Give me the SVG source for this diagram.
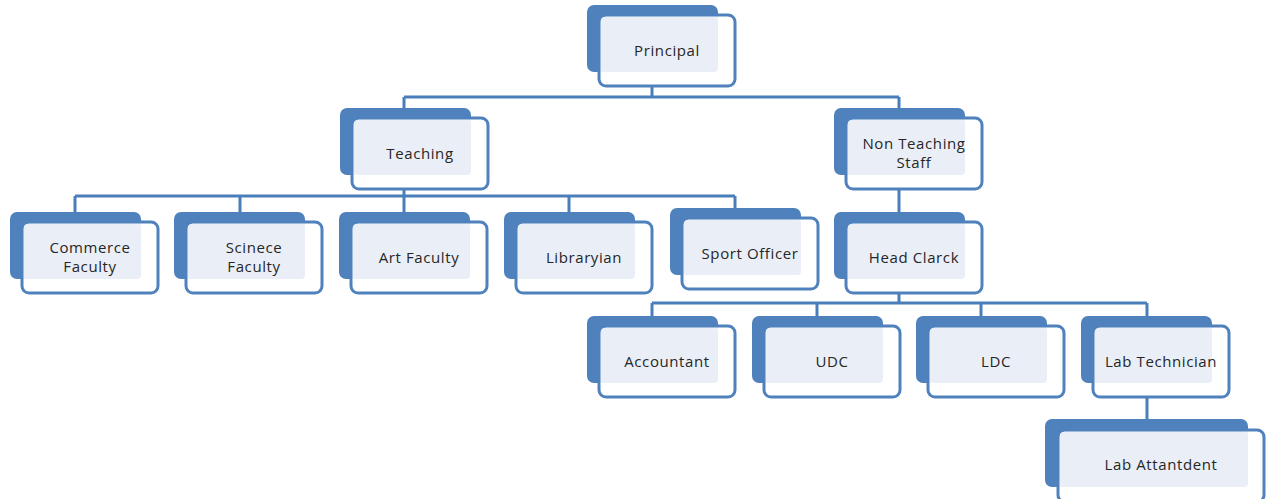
<svg xmlns="http://www.w3.org/2000/svg" width="1266" height="499" viewBox="0 0 1266 499">
<style>
.back{fill:#4F81BD}
.front{fill:#FFFFFF;fill-opacity:0.92;stroke:#4F81BD;stroke-width:3}
.light{fill:#EAEFF7}
.lbl{font-family:"Open Sans","Liberation Sans",sans-serif;font-size:15px;letter-spacing:0.6px;fill:#262626;text-anchor:middle;dominant-baseline:central}
.conn{fill:none;stroke:#4A7EBB;stroke-width:3}
</style>
<rect width="1266" height="499" fill="#FFFFFF"/>
<g id="connectors" class="conn">
<path d="M652,86V97M404,97H899M404,97V108M899,97V108"/>
<path d="M404,189V196M75,196H735M75,196V212M240,196V212M404,196V212M569,196V212M735,196V208"/>
<path d="M899,189V212"/>
<path d="M899,293V303M652,303H1147M652,303V316M817,303V316M981,303V316M1147,303V316"/>
<path d="M1147,397V419"/>
</g>
<g id="principal"><rect class="back" x="587" y="5" width="131" height="67" rx="7"/><rect class="front" x="599" y="15" width="136" height="71" rx="7"/><rect class="light" x="601" y="17" width="117" height="55" rx="4"/><text class="lbl" x="667" y="50">Principal</text></g>
<g id="teaching"><rect class="back" x="340" y="108" width="131" height="67" rx="7"/><rect class="front" x="352" y="118" width="136" height="71" rx="7"/><rect class="light" x="354" y="120" width="117" height="55" rx="4"/><text class="lbl" x="420" y="153">Teaching</text></g>
<g id="non-teaching"><rect class="back" x="834" y="108" width="131" height="67" rx="7"/><rect class="front" x="846" y="118" width="136" height="71" rx="7"/><rect class="light" x="848" y="120" width="117" height="55" rx="4"/><text class="lbl" x="914" y="143">Non Teaching</text><text class="lbl" x="914" y="162">Staff</text></g>
<g id="commerce"><rect class="back" x="10" y="212" width="131" height="67" rx="7"/><rect class="front" x="22" y="222" width="136" height="71" rx="7"/><rect class="light" x="24" y="224" width="117" height="55" rx="4"/><text class="lbl" x="90" y="247">Commerce</text><text class="lbl" x="90" y="266">Faculty</text></g>
<g id="science"><rect class="back" x="174" y="212" width="131" height="67" rx="7"/><rect class="front" x="186" y="222" width="136" height="71" rx="7"/><rect class="light" x="188" y="224" width="117" height="55" rx="4"/><text class="lbl" x="254" y="247">Scinece</text><text class="lbl" x="254" y="266">Faculty</text></g>
<g id="art"><rect class="back" x="339" y="212" width="131" height="67" rx="7"/><rect class="front" x="351" y="222" width="136" height="71" rx="7"/><rect class="light" x="353" y="224" width="117" height="55" rx="4"/><text class="lbl" x="419" y="257">Art Faculty</text></g>
<g id="librarian"><rect class="back" x="504" y="212" width="131" height="67" rx="7"/><rect class="front" x="516" y="222" width="136" height="71" rx="7"/><rect class="light" x="518" y="224" width="117" height="55" rx="4"/><text class="lbl" x="584" y="257">Libraryian</text></g>
<g id="sport"><rect class="back" x="670" y="208" width="131" height="67" rx="7"/><rect class="front" x="682" y="218" width="136" height="71" rx="7"/><rect class="light" x="684" y="220" width="117" height="55" rx="4"/><text class="lbl" x="750" y="253">Sport Officer</text></g>
<g id="head-clarck"><rect class="back" x="834" y="212" width="131" height="67" rx="7"/><rect class="front" x="846" y="222" width="136" height="71" rx="7"/><rect class="light" x="848" y="224" width="117" height="55" rx="4"/><text class="lbl" x="914" y="257">Head Clarck</text></g>
<g id="accountant"><rect class="back" x="587" y="316" width="131" height="67" rx="7"/><rect class="front" x="599" y="326" width="136" height="71" rx="7"/><rect class="light" x="601" y="328" width="117" height="55" rx="4"/><text class="lbl" x="667" y="361">Accountant</text></g>
<g id="udc"><rect class="back" x="752" y="316" width="131" height="67" rx="7"/><rect class="front" x="764" y="326" width="136" height="71" rx="7"/><rect class="light" x="766" y="328" width="117" height="55" rx="4"/><text class="lbl" x="832" y="361">UDC</text></g>
<g id="ldc"><rect class="back" x="916" y="316" width="131" height="67" rx="7"/><rect class="front" x="928" y="326" width="136" height="71" rx="7"/><rect class="light" x="930" y="328" width="117" height="55" rx="4"/><text class="lbl" x="996" y="361">LDC</text></g>
<g id="lab-technician"><rect class="back" x="1081" y="316" width="131" height="67" rx="7"/><rect class="front" x="1093" y="326" width="136" height="71" rx="7"/><rect class="light" x="1095" y="328" width="117" height="55" rx="4"/><text class="lbl" x="1161" y="361">Lab Technician</text></g>
<g id="lab-attantdent"><rect class="back" x="1045" y="419" width="203" height="68" rx="7"/><rect class="front" x="1058" y="430" width="206" height="72" rx="7"/><rect class="light" x="1060" y="432" width="188" height="55" rx="4"/><text class="lbl" x="1161" y="464">Lab Attantdent</text></g>
</svg>
